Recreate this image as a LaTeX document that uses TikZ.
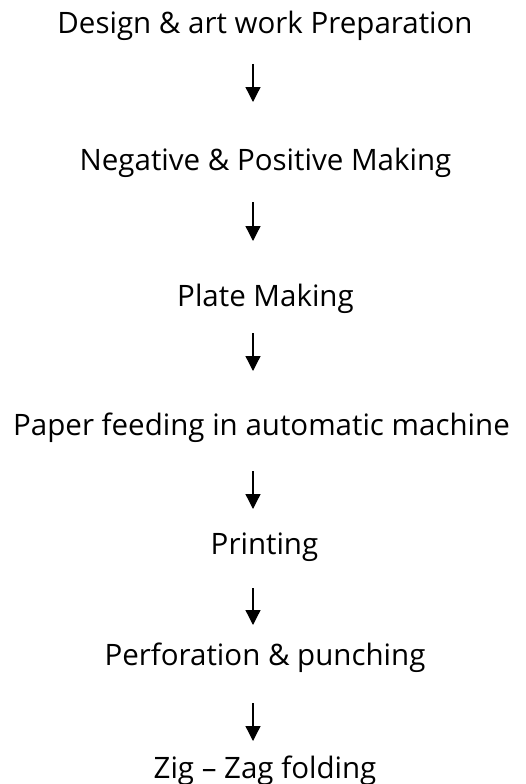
\documentclass[tikz,border=0pt]{standalone}
\usepackage{fontspec}
\setmainfont{Open Sans}
\usetikzlibrary{arrows.meta}

\tikzset{
  stage/.style={anchor=base, inner sep=0pt, font=\fontsize{29.5}{34}\selectfont},
  flow/.style={line width=1.3pt, -{Triangle[width=15pt,length=15pt]}}
}

\begin{document}
\begin{tikzpicture}[x=1pt, y=-1pt]
      \useasboundingbox (0,0) rectangle (525,784);
      % process stages, top to bottom
      \node[stage] (design) at (265,34) {Design \& art work Preparation};
      \node[stage] (negative) at (265.5,170) {Negative \& Positive Making};
      \node[stage] (plate) at (265.5,306) {Plate Making};
      \node[stage] (feeding) at (261.5,435) {Paper feeding in automatic machine};
      \node[stage] (printing) at (264.5,554) {Printing};
      \node[stage] (perforation) at (265,665) {Perforation \& punching};
      \node[stage] (folding) at (265,778) {Zig -- Zag folding};
      % arrow ends between the stages
      \coordinate (t1) at (253,64);  \coordinate (h1) at (253,102);
      \coordinate (t2) at (253,202); \coordinate (h2) at (253,241);
      \coordinate (t3) at (253,333); \coordinate (h3) at (253,371);
      \coordinate (t4) at (253,471); \coordinate (h4) at (253,509);
      \coordinate (t5) at (253,588); \coordinate (h5) at (253,625);
      \coordinate (t6) at (253,703); \coordinate (h6) at (253,741);
      \draw[flow] (t1) -- (h1);
      \draw[flow] (t2) -- (h2);
      \draw[flow] (t3) -- (h3);
      \draw[flow] (t4) -- (h4);
      \draw[flow] (t5) -- (h5);
      \draw[flow] (t6) -- (h6);
    \end{tikzpicture}
\end{document}
